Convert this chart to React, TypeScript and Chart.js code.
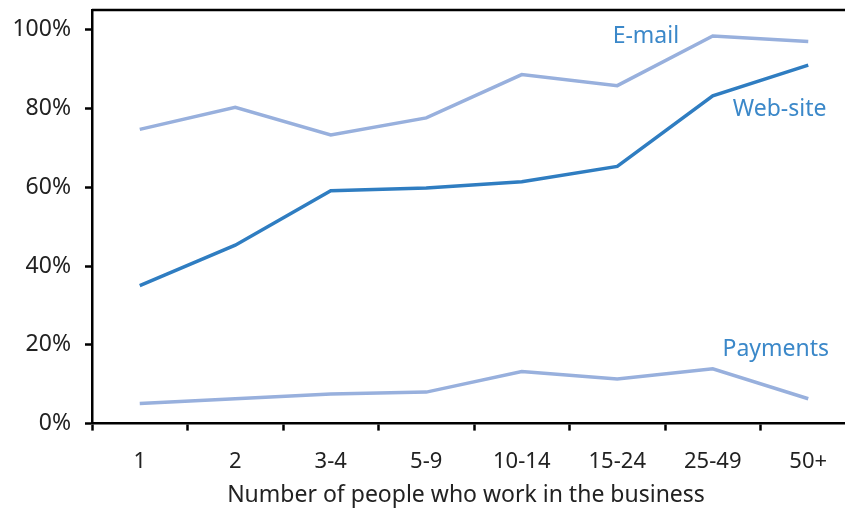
import React, { useEffect, useRef } from "react";
import { Chart, registerables } from "chart.js";

Chart.register(...registerables);

const categories = ["1", "2", "3-4", "5-9", "10-14", "15-24", "25-49", "50+"];
const email = [74.7, 80.3, 73.3, 77.6, 88.6, 85.8, 98.4, 97.0];
const website = [35.0, 45.3, 59.1, 59.8, 61.4, 65.3, 83.2, 91.0];
const payments = [5.1, 6.3, 7.5, 8.0, 13.2, 11.3, 13.9, 6.3];
const yTickValues = [0, 20, 40, 60, 80, 100];
const seriesNames = ["E-mail", "Web-site", "Payments"];
const labelAnchorX = [5.3, 6.7, 6.66];
const labelAnchorY = [98.2, 79.7, 18.8];
const xTitle = "Number of people who work in the business";

const FONT = "'Noto Sans', sans-serif";
const LIGHT = "#98b0dd";
const DARK = "#2f7dc1";
const LABEL = "#3b88c9";

export default function App() {
  const ref = useRef<HTMLCanvasElement | null>(null);
  useEffect(() => {
    if (!ref.current) return;
    const labelPlugin = {
      id: "seriesLabels",
      afterDatasetsDraw(chart: any) {
        const { ctx, scales, chartArea } = chart;
        ctx.save();
        ctx.strokeStyle = "#000";
        ctx.lineWidth = 2.5;
        ctx.beginPath();
        ctx.moveTo(chartArea.left, chartArea.top);
        ctx.lineTo(chartArea.right, chartArea.top);
        ctx.stroke();
        ctx.fillStyle = LABEL;
        ctx.font = `23px ${FONT}`;
        ctx.textAlign = "center";
        ctx.textBaseline = "middle";
        seriesNames.forEach((n, i) => {
          const x = scales.x.getPixelForValue(labelAnchorX[i]);
          const y = scales.y.getPixelForValue(labelAnchorY[i]);
          ctx.fillText(n, x, y);
        });
        // axis title
        ctx.fillStyle = "#222";
        ctx.font = `23px ${FONT}`;
        ctx.fillText(xTitle, (chartArea.left + chartArea.right) / 2 - 8, chartArea.bottom + 72);
        ctx.restore();
      },
    };
    const chart = new Chart(ref.current, {
      type: "line",
      data: {
        labels: categories,
        datasets: [
          { label: seriesNames[0], data: email, borderColor: LIGHT, borderWidth: 3.5, pointRadius: 0, tension: 0 },
          { label: seriesNames[1], data: website, borderColor: DARK, borderWidth: 3.5, pointRadius: 0, tension: 0 },
          { label: seriesNames[2], data: payments, borderColor: LIGHT, borderWidth: 3.5, pointRadius: 0, tension: 0 },
        ],
      },
      options: {
        animation: false,
        responsive: false,
        layout: { padding: { top: 10, right: 0, left: 0, bottom: 17 } },
        plugins: { legend: { display: false }, tooltip: { enabled: false } },
        scales: {
          x: {
            type: "category",
            offset: true,
            grid: {
              display: true,
              drawOnChartArea: false,
              drawTicks: true,
              tickLength: 7,
              tickWidth: 2.5,
              tickColor: "#000",
              offset: true,
            },
            border: { display: true, color: "#000", width: 2.5 },
            ticks: { color: "#222", font: { family: FONT, size: 22 }, padding: 18, maxRotation: 0 },
            title: { display: false },
          },
          y: {
            min: 0,
            max: 105,
            afterBuildTicks: (s: any) => {
              s.ticks = yTickValues.map((v) => ({ value: v }));
            },
            afterFit: (s: any) => {
              s.width = 92;
              s.paddingTop = 0;
              s.paddingBottom = 0;
            },
            grid: {
              display: true,
              drawOnChartArea: false,
              tickLength: 7,
              tickWidth: 2.5,
              tickColor: "#000",
            },
            border: { display: true, color: "#000", width: 2.5 },
            ticks: {
              color: "#222",
              font: { family: FONT, size: 23 },
              padding: 14,
              callback: (v: any) => `${v}%`,
            },
          },
        },
      },
      plugins: [labelPlugin],
    });
    return () => chart.destroy();
  }, []);
  return (
    <div style={{ position: "fixed", left: 0, top: 0, width: 845, height: 510, overflow: "hidden", background: "#fff" }}>
      <canvas ref={ref} width={856} height={510} style={{ display: "block" }} />
    </div>
  );
}
